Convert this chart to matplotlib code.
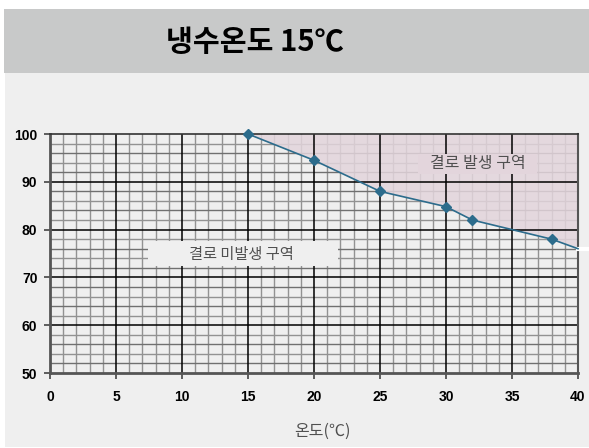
import matplotlib
matplotlib.use("Agg")
import matplotlib.pyplot as plt
from matplotlib.patches import Rectangle

plt.rcParams['font.family'] = ['Noto Sans CJK KR', 'DejaVu Sans']

# 데이터
온도 = [15, 20, 25, 30, 32, 38, 40]
습도 = [100, 94.5, 88, 84.8, 82, 78, 76]
마커_인덱스 = [0, 1, 2, 3, 4, 5]
x_ticks = [0, 5, 10, 15, 20, 25, 30, 35, 40]
y_ticks = [50, 60, 70, 80, 90, 100]

fig = plt.figure(figsize=(5.89, 4.48), dpi=100)
fig.patch.set_facecolor('white')

# 제목 띠와 배경 판
fig.patches.append(Rectangle((4 / 589, 1 - 73 / 448), 585 / 589, 64 / 448,
                             transform=fig.transFigure, facecolor='#c8c9c9',
                             edgecolor='none', zorder=-5))
fig.patches.append(Rectangle((5 / 589, 1 / 448), 584 / 589, 374 / 448,
                             transform=fig.transFigure, facecolor='#efefef',
                             edgecolor='none', zorder=-5))
fig.text(255 / 589, 1 - 42 / 448, '냉수온도 15℃', ha='center', va='center',
         fontsize=21, color='black', fontweight='bold')

ax = fig.add_axes([50 / 589, 75 / 448, 528 / 589, 239 / 448])
ax.set_zorder(2)
ax.set_facecolor('#efefef')
ax.set_xlim(0, 40)
ax.set_ylim(50, 100)

# 모눈
for x in range(1, 40):
    if x % 5:
        ax.axvline(x, color='#929292', lw=1.0, zorder=1)
for y in range(52, 100, 2):
    if y % 10:
        ax.axhline(y, color='#929292' if y % 4 else '#707070', lw=1.0, zorder=1)
for x in x_ticks[1:-1]:
    ax.axvline(x, color='black', lw=1.1, zorder=2)
for y in y_ticks[1:-1]:
    ax.axhline(y, color='black', lw=1.1, zorder=2)

# 결로 발생 영역
ax.fill_between(온도, 습도, 100, color='#e3d5dc', alpha=0.85, lw=0, zorder=1.5)

ax.plot(온도, 습도, color='#2c6c8c', lw=1.2, marker='D', markersize=5,
        markevery=마커_인덱스, zorder=6, clip_on=False)
ax.plot([40, 40.9], [76, 76], color='white', lw=3, clip_on=False, zorder=5)

# 구역 라벨
ax.add_patch(Rectangle((7.4, 72.3), 14.4, 5.4, facecolor='#efefef',
                       edgecolor='none', zorder=3))
ax.text(14.5, 74.8, '결로 미발생 구역', ha='center', va='center', fontsize=11,
        color='#505050', fontweight='medium', zorder=4)
ax.add_patch(Rectangle((27.9, 91.6), 9.0, 4.3, facecolor='#e3d5dc',
                       edgecolor='none', zorder=3))
ax.text(32.4, 93.8, '결로 발생 구역', ha='center', va='center', fontsize=11.5,
        color='#505050', fontweight='medium', zorder=4)

ax.set_xticks(x_ticks)
ax.set_yticks(y_ticks)
ax.tick_params(direction='out', length=4, width=1.2, color='#444444',
               labelsize=10, pad=5)
for lab in ax.get_xticklabels() + ax.get_yticklabels():
    lab.set_family(['Liberation Sans Narrow', 'Liberation Sans', 'DejaVu Sans'])
    lab.set_fontweight('bold')
ax.tick_params(axis='x', pad=8)

for side in ['left', 'bottom']:
    ax.spines[side].set_color('#555555')
    ax.spines[side].set_linewidth(2)
ax.spines['right'].set_color('#555555')
ax.spines['right'].set_linewidth(1.5)
ax.spines['top'].set_color('#333333')
ax.spines['top'].set_linewidth(1.2)

fig.text(322 / 589, 1 - 431 / 448, '온도(℃)', ha='center', va='center',
         fontsize=11.5, color='#505050')

plt.savefig('out.png', dpi=100)
plt.close()
